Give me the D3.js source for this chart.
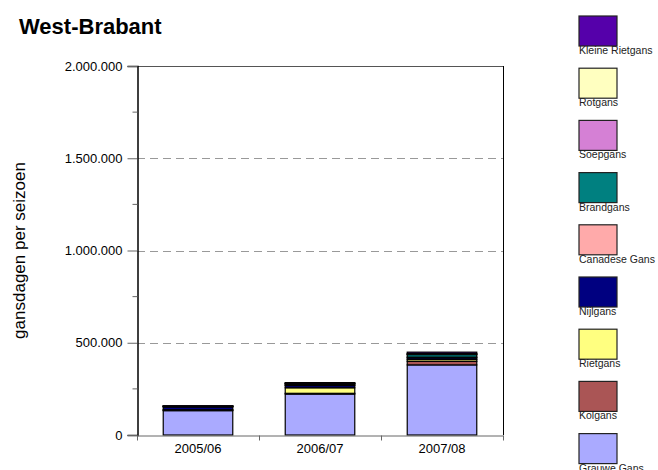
<!DOCTYPE html>
<html>
<head>
<meta charset="utf-8">
<script src="https://cdn.jsdelivr.net/npm/d3@7/dist/d3.min.js"></script>
<style>
  body { margin: 0; background: #fff; }
  svg { font-family: "Liberation Sans", Arial, sans-serif; }
</style>
</head>
<body>
<div id="chart"></div>
<script>
var width = 658;
var height = 470;

// seizoenen
var seasons = ['2005/06', '2006/07', '2007/08'];

// soorten, van onder naar boven
var species = ['Grauwe Gans', 'Kolgans', 'Rietgans', 'Nijlgans', 'Canadese Gans',
               'Brandgans', 'Soepgans', 'Rotgans', 'Kleine Rietgans'];
var colors = ['#aaaaff', '#aa5555', '#ffff80', '#000080', '#ffaaaa',
              '#008080', '#d580d5', '#ffffc0', '#5500aa'];

// gansdagen per soort, per seizoen
var grauweGans     = [132000, 222000, 380000];
var kolgans        = [3000, 4000, 19000];
var rietgans       = [2000, 30000, 10000];
var nijlgans       = [15000, 12000, 9000];
var canadeseGans   = [2000, 4000, 4000];
var brandgans      = [2000, 6000, 14000];
var soepgans       = [500, 1000, 2000];
var rotgans        = [500, 2000, 3000];
var kleineRietgans = [1000, 3000, 8000];

var yTicks = [0, 500000, 1000000, 1500000, 2000000];
var yMinor = [250000, 750000, 1250000, 1750000];

var seriesValues = [grauweGans, kolgans, rietgans, nijlgans, canadeseGans,
                    brandgans, soepgans, rotgans, kleineRietgans];

var rows = seasons.map(function (s, i) {
    var r = { season: s };
    species.forEach(function (sp, j) { r[sp] = seriesValues[j][i]; });
    return r;
});

var plot = { left: 137, right: 503, top: 66, bottom: 435 };

var svg = d3.select('#chart').append('svg')
    .attr('width', width)
    .attr('height', height);

var x = d3.scaleBand()
    .domain(seasons)
    .range([plot.left, plot.right])
    .paddingInner(0.43)
    .paddingOuter(0.215);

var y = d3.scaleLinear()
    .domain([0, 2000000])
    .range([plot.bottom, plot.top]);

var nl = d3.formatLocale({ decimal: ',', thousands: '.', grouping: [3], currency: ['€', ''] });
var fmt = nl.format(',d');

// title
svg.append('text')
    .attr('x', 19)
    .attr('y', 34)
    .attr('font-size', 22)
    .attr('font-weight', 'bold')
    .text('West-Brabant');

// gridlines
svg.append('g').selectAll('line')
    .data(yTicks.filter(function (d) { return d > 0 && d < 2000000; }))
    .enter().append('line')
    .attr('x1', plot.left).attr('x2', plot.right)
    .attr('y1', function (d) { return Math.round(y(d)) + 0.5; })
    .attr('y2', function (d) { return Math.round(y(d)) + 0.5; })
    .attr('stroke', '#999')
    .attr('stroke-dasharray', '8,5');

// frame top + right
svg.append('line')
    .attr('x1', plot.left).attr('x2', plot.right)
    .attr('y1', plot.top + 0.5).attr('y2', plot.top + 0.5)
    .attr('stroke', '#555');
svg.append('line')
    .attr('x1', plot.right + 0.5).attr('x2', plot.right + 0.5)
    .attr('y1', plot.top).attr('y2', plot.bottom)
    .attr('stroke', '#000');

// stacked bars
var stack = d3.stack().keys(species);
var layers = stack(rows);

svg.append('g').selectAll('g')
    .data(layers)
    .enter().append('g')
    .attr('fill', function (d, i) { return colors[i]; })
    .selectAll('rect')
    .data(function (d) { return d; })
    .enter().append('rect')
    .attr('x', function (d) { return x(d.data.season); })
    .attr('width', x.bandwidth())
    .attr('y', function (d) { return y(d[1]); })
    .attr('height', function (d) { return y(d[0]) - y(d[1]); })
    .attr('stroke', '#000')
    .attr('stroke-width', 1.2);

// y axis
var yAxis = d3.axisLeft(y)
    .tickValues(yTicks)
    .tickSize(10)
    .tickPadding(5)
    .tickFormat(function (d) { return fmt(d); });

var gy = svg.append('g')
    .attr('transform', 'translate(' + (plot.left + 0.5) + ',0)')
    .call(yAxis);
gy.select('.domain').attr('stroke', '#000').attr('stroke-width', 1.5);
gy.selectAll('.tick line').attr('stroke', '#666');
gy.selectAll('.tick text')
    .attr('font-size', 13)
    .attr('font-family', '"Liberation Sans", Arial, sans-serif')
    .attr('fill', '#000');

gy.selectAll('.minor')
    .data(yMinor)
    .enter().append('line')
    .attr('class', 'minor')
    .attr('x1', -5).attr('x2', 0)
    .attr('y1', function (d) { return y(d); })
    .attr('y2', function (d) { return y(d); })
    .attr('stroke', '#666');

// x axis
var xAxis = d3.axisBottom(x).tickSize(0).tickPadding(8);
var gx = svg.append('g')
    .attr('transform', 'translate(0,' + (plot.bottom + 0.5) + ')')
    .call(xAxis);
gx.select('.domain').attr('stroke', '#666');
gx.selectAll('.tick text')
    .attr('font-size', 13)
    .attr('font-family', '"Liberation Sans", Arial, sans-serif')
    .attr('fill', '#000');

// separators under x axis
var step = x.step();
gx.selectAll('.sep')
    .data(d3.range(seasons.length + 1))
    .enter().append('line')
    .attr('class', 'sep')
    .attr('x1', function (i) { return plot.left + i * step + 0.5; })
    .attr('x2', function (i) { return plot.left + i * step + 0.5; })
    .attr('y1', 0).attr('y2', 5)
    .attr('stroke', '#666');

// y title
svg.append('text')
    .attr('transform', 'translate(25,' + ((plot.top + plot.bottom) / 2) + ') rotate(-90)')
    .attr('text-anchor', 'middle')
    .attr('font-size', 17)
    .text('gansdagen per seizoen');

// legend (top = laatste soort)
var legendOrder = species.slice().reverse();
var legend = svg.append('g').selectAll('g')
    .data(legendOrder)
    .enter().append('g')
    .attr('transform', function (d, i) { return 'translate(579,' + (16 + i * 52.2) + ')'; });

legend.append('rect')
    .attr('width', 38)
    .attr('height', 30)
    .attr('fill', function (d) { return colors[species.indexOf(d)]; })
    .attr('stroke', '#222')
    .attr('stroke-width', 1.2);

legend.append('text')
    .attr('x', 0)
    .attr('y', 38)
    .attr('font-size', 10.5)
    .attr('fill', '#222')
    .text(function (d) { return d; });
</script>
</body>
</html>
